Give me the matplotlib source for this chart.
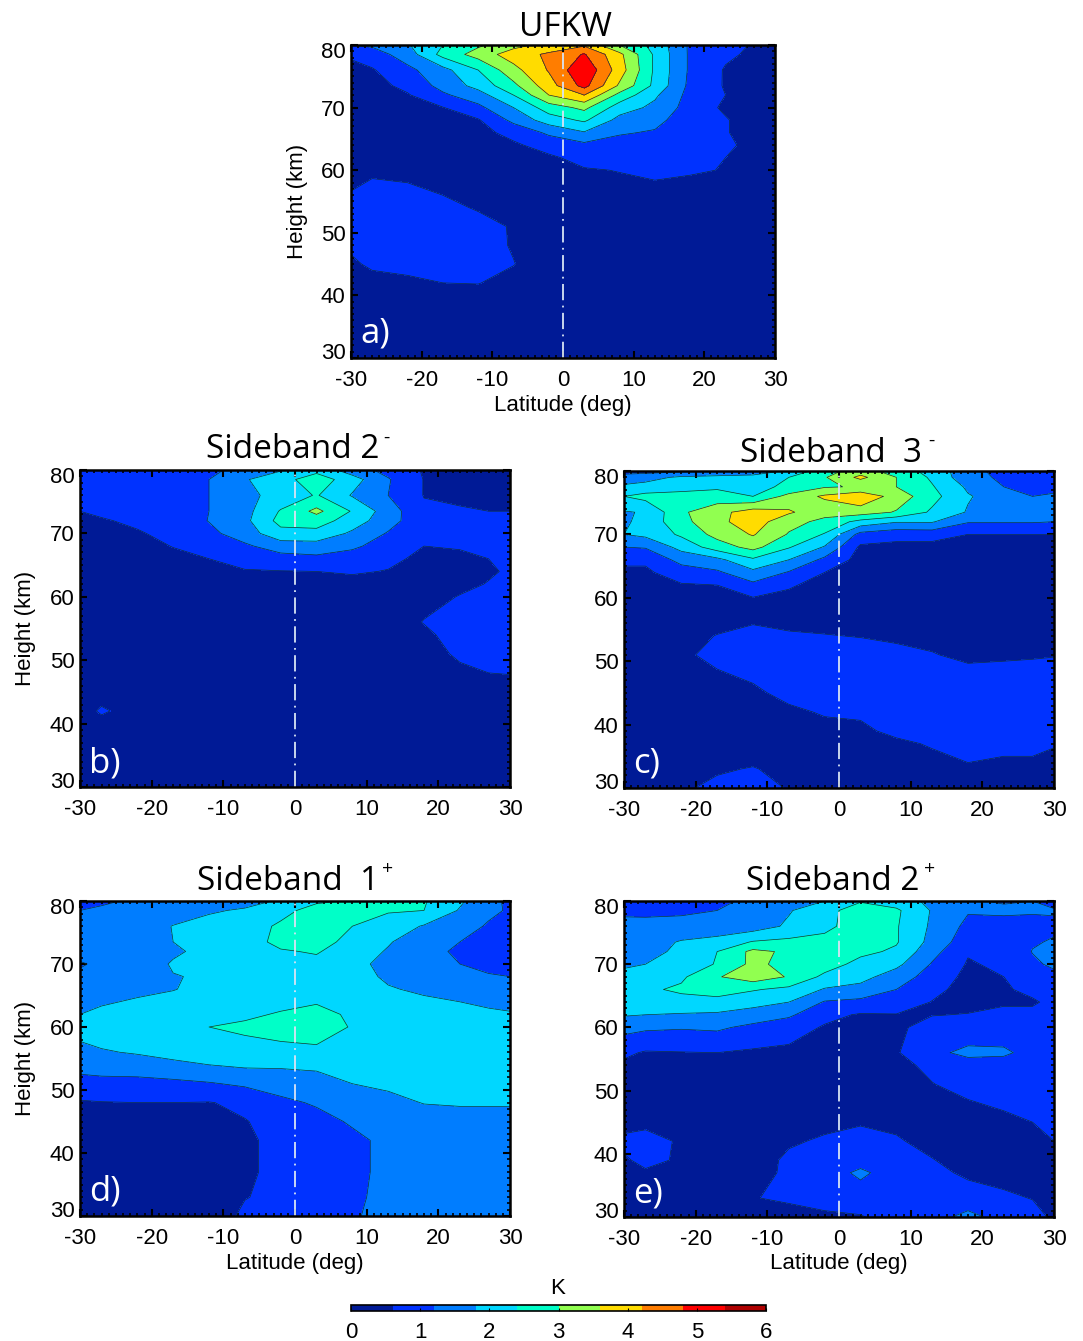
import numpy as np
import matplotlib
matplotlib.use('Agg')
import matplotlib.pyplot as plt
from matplotlib.colors import ListedColormap, BoundaryNorm
from matplotlib.ticker import MultipleLocator
from matplotlib.transforms import ScaledTranslation

W, H = 1083, 1341
plt.rcParams['font.family'] = ['Liberation Sans', 'DejaVu Sans']
plt.rcParams['axes.unicode_minus'] = False

# grid the values were read on, heights from the top down
lats = [-30, -27, -22, -17, -12, -7, -2, 3, 8, 13, 18, 23, 27, 30]
heights = [80, 78.5, 76, 73.5, 72, 70, 68, 66, 64, 62, 60, 56, 54, 51, 48, 45, 42, 39, 37, 33, 30]
heights_c = [80, 79, 77.5, 76, 73.5, 72, 70, 68, 66, 64, 62, 60, 56, 54, 51, 48, 45, 42, 39, 37, 33, 30]
levels = [0, 0.6, 1.2, 1.8, 2.4, 3.0, 3.6, 4.2, 4.8, 5.4, 6.0]
colors = ['#001a96', '#0032ff', '#007dff', '#00d7ff', '#00ffc8',
          '#91ff50', '#ffdc00', '#ff7d00', '#ff0000', '#af0000']

# one list per latitude
ufkw = [
    [1.2, .7, .4, .35, .3, .3, .3, .3, .3, .3, .35, .65, .8, .9, .7, .5, .35, .3, .3, .25, .25],
    [1.3, .9, .55, .4, .35, .3, .3, .3, .3, .3, .5, .8, .9, .95, .9, .7, .4, .3, .3, .25, .25],
    [1.75, 1.5, 1.05, .75, .55, .45, .4, .3, .3, .3, .45, .75, .8, .85, .85, .75, .5, .3, .2, .2, .2],
    [2.4, 2.6, 1.6, 1.4, 1.1, .58, .45, .3, .3, .3, .35, .6, .75, .85, .85, .75, .6, .3, .25, .2, .2],
    [2.9, 3.25, 2.4, 2.0, 1.55, 1.05, .55, .4, .35, .3, .3, .4, .55, .8, .85, .8, .62, .3, .25, .2, .2],
    [3.4, 3.9, 3.4, 2.85, 2.4, 1.8, 1.35, .8, .5, .35, .3, .3, .35, .55, .55, .62, .4, .25, .2, .2, .2],
    [3.8, 4.3, 4.25, 3.95, 3.6, 2.7, 2.1, 1.3, .85, .5, .35, .3, .25, .25, .25, .25, .25, .2, .2, .2, .2],
    [4.1, 4.85, 5.3, 5.0, 4.2, 3.15, 2.5, 1.75, 1.05, .8, .55, .35, .25, .25, .25, .25, .25, .2, .2, .2, .2],
    [3.0, 3.75, 3.9, 3.5, 2.8, 2.1, 1.6, 1.25, 1.0, .85, .62, .4, .3, .25, .25, .25, .2, .2, .2, .2, .2],
    [2.2, 2.3, 2.3, 2.25, 1.9, 1.65, 1.35, 1.15, 1.0, .85, .7, .45, .3, .25, .25, .2, .2, .2, .2, .2, .2],
    [1.1, 1.1, 1.1, 1.05, 1.0, .95, .9, .9, .85, .75, .65, .4, .3, .25, .25, .2, .2, .2, .2, .2, .2],
    [.8, .7, .55, .55, .6, .5, .65, .65, .8, .6, .58, .35, .3, .25, .25, .2, .2, .2, .2, .2, .2],
    [.55, .5, .4, .35, .35, .3, .3, .3, .3, .3, .3, .3, .25, .25, .25, .2, .2, .2, .2, .2, .2],
    [.3, .3, .3, .3, .3, .3, .3, .3, .3, .3, .3, .3, .25, .25, .25, .2, .2, .2, .2, .2, .2],
]

sb2_minus = [
    [.9, .9, .8, .6, .5, .4, .35, .3, .3, .3, .3, .3, .3, .3, .3, .3, .35, .3, .25, .25, .25],
    [.95, .95, .85, .7, .55, .4, .35, .3, .3, .3, .3, .3, .3, .3, .3, .35, .68, .3, .25, .25, .25],
    [1.0, 1.0, .9, .85, .7, .55, .4, .35, .3, .3, .3, .3, .3, .3, .3, .3, .35, .3, .25, .25, .25],
    [1.05, 1.0, .95, .9, .85, .75, .62, .45, .35, .3, .3, .3, .3, .3, .3, .3, .3, .25, .25, .25, .25],
    [1.1, 1.2, 1.2, 1.2, 1.22, 1.05, .9, .6, .45, .35, .3, .3, .3, .3, .3, .3, .3, .25, .25, .25, .25],
    [1.35, 1.75, 1.65, 1.6, 1.65, 1.5, 1.1, .85, .55, .4, .3, .3, .3, .3, .3, .3, .25, .25, .25, .25, .25],
    [1.75, 2.15, 2.0, 2.45, 2.6, 2.2, 1.5, .95, .58, .4, .3, .3, .3, .3, .3, .3, .25, .25, .25, .25, .25],
    [2.2, 2.75, 2.45, 3.15, 2.7, 2.2, 1.55, 1.05, .6, .45, .35, .3, .3, .3, .3, .3, .25, .25, .25, .25, .25],
    [1.5, 2.05, 1.75, 2.35, 2.1, 1.7, 1.3, .95, .65, .45, .35, .3, .3, .3, .3, .3, .25, .25, .25, .25, .25],
    [1.0, 1.25, 1.2, 1.5, 1.45, 1.15, .95, .7, .58, .45, .4, .35, .3, .3, .3, .3, .25, .25, .25, .25, .25],
    [.55, .58, .58, .7, .75, .65, .6, .5, .45, .4, .45, .62, .5, .4, .35, .3, .25, .25, .25, .25, .25],
    [.4, .4, .5, .65, .7, .7, .62, .55, .5, .5, .62, .8, .8, .68, .5, .3, .25, .25, .25, .25, .25],
    [.4, .4, .4, .6, .7, .7, .65, .6, .55, .62, .75, .85, .85, .8, .6, .4, .3, .25, .25, .25, .25],
    [.4, .4, .45, .6, .7, .7, .7, .65, .65, .7, .8, .85, .8, .72, .62, .4, .3, .25, .25, .25, .25],
]

sb3_minus = [
    [.9, 1.5, 1.9, 2.4, 1.75, 1.7, 1.8, 1.2, .7, .5, .4, .35, .3, .3, .3, .3, .3, .3, .3, .3, .3, .3],
    [.95, 1.6, 2.0, 2.6, 1.85, 2.0, 1.95, 1.25, .7, .5, .4, .35, .3, .3, .3, .3, .3, .3, .3, .3, .3, .3],
    [1.1, 1.9, 2.2, 2.6, 2.9, 2.8, 2.5, 2.0, 1.4, .9, .55, .4, .3, .4, .5, .45, .35, .3, .25, .25, .45, .55],
    [1.2, 2.0, 2.3, 2.65, 3.4, 3.45, 3.2, 2.7, 1.65, 1.1, .6, .45, .45, .62, .75, .55, .4, .3, .25, .3, .56, .68],
    [1.3, 2.1, 2.25, 2.4, 3.9, 3.9, 3.65, 3.2, 2.3, 1.65, 1.05, .58, .58, .75, .85, .7, .5, .4, .35, .4, .62, .72],
    [1.9, 2.4, 2.5, 3.2, 3.68, 3.2, 2.95, 2.45, 1.8, 1.15, .65, .5, .52, .65, .85, .85, .75, .5, .4, .4, .5, .58],
    [2.75, 2.95, 2.95, 3.7, 3.2, 2.85, 2.35, 1.75, 1.05, .6, .45, .4, .48, .62, .85, .9, .85, .65, .45, .35, .35, .3],
    [3.3, 3.75, 3.05, 4.05, 3.3, 2.2, 1.0, .5, .4, .35, .35, .35, .42, .58, .8, .9, .9, .68, .5, .4, .3, .3],
    [2.7, 3.0, 3.0, 3.35, 2.95, 1.85, .8, .45, .4, .35, .35, .35, .42, .5, .75, .95, .95, .85, .72, .5, .35, .3],
    [2.2, 2.3, 2.45, 2.6, 2.3, 1.85, .85, .4, .35, .35, .35, .35, .42, .5, .62, .85, .95, .95, .75, .65, .4, .3],
    [1.4, 1.4, 1.7, 1.85, 1.75, 1.25, .6, .4, .35, .35, .35, .3, .35, .45, .52, .7, .9, 1.0, .9, .75, .55, .35],
    [1.0, 1.1, 1.2, 1.5, 1.55, 1.25, .6, .4, .35, .35, .35, .3, .35, .45, .55, .7, .9, 1.0, .9, .7, .5, .4],
    [.8, 1.0, 1.1, 1.2, 1.5, 1.25, .6, .4, .35, .35, .35, .3, .35, .4, .57, .7, .9, 1.1, .9, .65, .55, .5],
    [.55, 1.0, 1.1, 1.25, 1.6, 1.2, .6, .4, .35, .35, .35, .3, .35, .45, .58, .75, .95, 1.1, .85, .62, .5, .55],
]

sb1_plus = [
    [1.0, 1.2, 1.35, 1.4, 1.4, 1.15, 1.3, 1.5, 1.65, 1.8, 2.0, 1.65, 1.45, .95, .55, .5, .45, .4, .35, .3, .3],
    [1.15, 1.25, 1.4, 1.45, 1.45, 1.3, 1.4, 1.6, 1.75, 1.9, 2.1, 1.75, 1.5, 1.0, .58, .5, .45, .4, .35, .3, .3],
    [1.25, 1.35, 1.5, 1.55, 1.55, 1.5, 1.55, 1.7, 1.85, 2.0, 2.15, 1.85, 1.55, 1.0, .6, .5, .45, .4, .35, .3, .3],
    [1.4, 1.5, 1.82, 1.8, 1.72, 1.85, 1.78, 1.78, 1.95, 2.1, 2.25, 1.95, 1.7, 1.05, .6, .5, .45, .4, .35, .3, .3],
    [1.5, 1.75, 1.95, 1.95, 1.95, 1.95, 1.85, 1.95, 2.05, 2.15, 2.4, 2.05, 1.8, 1.15, .58, .5, .45, .4, .35, .3, .3],
    [1.65, 1.85, 2.1, 2.15, 2.1, 2.05, 2.0, 2.05, 2.2, 2.3, 2.5, 2.2, 1.9, 1.3, .7, .58, .55, .55, .55, .58, .7],
    [1.85, 2.2, 2.5, 2.55, 2.35, 2.2, 2.1, 2.15, 2.25, 2.45, 2.6, 2.25, 1.9, 1.4, 1.1, .75, .68, .68, .68, .72, .78],
    [2.3, 2.65, 2.75, 2.65, 2.45, 2.25, 2.15, 2.2, 2.35, 2.6, 2.75, 2.25, 1.95, 1.5, 1.25, 1.05, .95, .95, 1.0, 1.05, 1.0],
    [2.45, 2.55, 2.4, 2.2, 2.1, 2.05, 2.05, 2.1, 2.2, 2.3, 2.35, 2.1, 1.95, 1.8, 1.45, 1.25, 1.1, 1.1, 1.1, 1.12, 1.15],
    [2.45, 2.45, 2.15, 1.85, 1.75, 1.55, 1.7, 1.85, 2.0, 2.1, 2.2, 2.05, 2.0, 1.9, 1.65, 1.4, 1.3, 1.3, 1.3, 1.32, 1.35],
    [2.45, 2.4, 1.75, 1.45, 1.4, 1.35, 1.5, 1.7, 1.9, 2.05, 2.2, 2.05, 2.0, 1.95, 1.82, 1.55, 1.45, 1.4, 1.4, 1.4, 1.4],
    [1.9, 1.75, 1.4, 1.2, 1.1, 1.2, 1.4, 1.6, 1.8, 2.0, 2.15, 2.05, 2.0, 1.95, 1.85, 1.6, 1.45, 1.45, 1.45, 1.45, 1.45],
    [1.35, 1.3, 1.15, 1.05, 1.0, 1.05, 1.25, 1.5, 1.7, 1.9, 2.05, 2.0, 1.95, 1.95, 1.85, 1.6, 1.5, 1.45, 1.45, 1.45, 1.45],
    [1.1, 1.15, 1.1, 1.05, 1.0, 1.05, 1.2, 1.45, 1.65, 1.85, 2.0, 2.0, 1.95, 1.95, 1.85, 1.6, 1.5, 1.45, 1.45, 1.45, 1.45],
]

sb2_plus = [
    [.9, 1.1, 1.35, 1.5, 1.6, 1.75, 1.9, 2.0, 1.95, 1.85, 1.4, .7, .5, .35, .3, .45, .7, .55, .4, .3, .3],
    [.95, 1.05, 1.4, 1.55, 1.65, 1.8, 2.0, 2.3, 2.1, 1.8, 1.3, .55, .4, .3, .3, .5, .75, .7, .55, .35, .3],
    [1.0, 1.1, 1.4, 1.85, 1.9, 2.0, 2.3, 2.5, 2.2, 1.75, 1.25, .58, .4, .3, .3, .4, .55, .55, .4, .3, .25],
    [1.15, 1.2, 1.45, 2.0, 2.4, 2.45, 2.95, 2.6, 2.25, 1.7, 1.3, .6, .4, .3, .3, .3, .3, .3, .3, .3, .3],
    [1.25, 1.3, 1.5, 2.45, 3.15, 3.15, 3.35, 2.45, 2.0, 1.55, 1.05, .52, .4, .3, .3, .3, .3, .3, .3, .58, .4],
    [1.5, 1.75, 1.9, 2.55, 2.9, 2.8, 2.95, 2.25, 1.8, 1.3, .85, .48, .4, .3, .3, .35, .52, .72, .75, .68, .4],
    [1.8, 2.2, 2.2, 2.65, 2.75, 2.7, 2.25, 1.75, 1.15, .75, .55, .38, .3, .3, .3, .45, .68, .85, .95, .8, .5],
    [2.35, 2.7, 2.8, 2.8, 2.55, 2.2, 2.0, 1.6, 1.05, .55, .45, .38, .3, .3, .4, .55, .8, 1.0, 1.3, .95, .55],
    [2.1, 2.5, 2.45, 2.45, 2.3, 1.95, 1.5, 1.2, .9, .58, .5, .55, .42, .4, .45, .5, .65, .85, .95, .9, .9],
    [1.65, 1.75, 1.7, 1.6, 1.4, 1.15, .95, .75, .58, .58, .8, 1.05, .75, .58, .45, .4, .45, .62, .72, .85, .95],
    [1.25, 1.25, 1.05, .85, .65, .55, .45, .4, .45, .62, .8, 1.35, .95, .8, .55, .4, .35, .4, .52, .8, 1.4],
    [1.15, 1.3, 1.0, .8, .75, .7, .6, .55, .55, .7, .85, 1.3, .95, .8, .7, .45, .35, .35, .4, .7, .95],
    [1.2, 1.25, 1.05, 1.15, 1.22, 1.1, .9, .7, .55, .7, .8, 1.0, .85, .75, .7, .6, .4, .35, .35, .58, .8],
    [1.0, 1.25, 1.1, 1.25, 1.4, 1.3, 1.05, .85, .7, .7, .75, .8, .8, .75, .7, .65, .6, .35, .35, .4, .5],
]

cmap = ListedColormap(colors)
norm = BoundaryNorm(levels, cmap.N)
fig = plt.figure(figsize=(W / 100, H / 100), dpi=100)


# axes from pixel box of the reference
def add_box(x0, y0, x1, y1):
    return fig.add_axes([x0 / W, 1 - y1 / H, (x1 - x0) / W, (y1 - y0) / H])


def draw_panel(box, values, letter, rows=heights, xlab=False, ylab=False):
    ax = add_box(*box)
    z = np.array(values).T
    cs = ax.contourf(lats, rows, z, levels=levels, cmap=cmap, norm=norm)
    ax.contour(lats, rows, z, levels=levels[1:-1], colors='#10303a', linewidths=0.5)
    ax.plot([0, 0], [30, 80], color='#d8e4f4', lw=1.3, dashes=(9, 3, 1, 3))
    ax.set_xlim(-30, 30)
    ax.set_ylim(30, 80)
    ax.set_xticks(range(-30, 31, 10))
    ax.set_yticks(range(30, 81, 10))
    ax.xaxis.set_minor_locator(MultipleLocator(1))
    ax.yaxis.set_minor_locator(MultipleLocator(1))
    ax.tick_params(which='major', direction='in', top=True, right=True, length=5, width=1.5,
                   labelsize=16)
    ax.tick_params(axis='x', which='major', pad=8.5)
    ax.tick_params(axis='y', which='major', pad=4)
    ax.tick_params(which='minor', direction='in', top=True, right=True, length=2.5, width=1.2)
    # end labels sit inside the axis range, as in the original
    labels = ax.get_yticklabels()
    labels[0].set_transform(labels[0].get_transform() + ScaledTranslation(0, 0.07, fig.dpi_scale_trans))
    labels[-1].set_transform(labels[-1].get_transform() + ScaledTranslation(0, -0.05, fig.dpi_scale_trans))
    for s in ax.spines.values():
        s.set_linewidth(1.8)
    w = box[2] - box[0]
    h = box[3] - box[1]
    if xlab:
        ax.set_xlabel('Latitude (deg)', fontsize=16)
        ax.xaxis.set_label_coords(0.5, -47 / h, transform=ax.transAxes)
        ax.xaxis.label.set_verticalalignment('center')
    if ylab:
        ax.set_ylabel('Height (km)', fontsize=16)
        ax.yaxis.set_label_coords(-54 / w, 0.5, transform=ax.transAxes)
        ax.yaxis.label.set_verticalalignment('center')
    ax.text(9 / w, 24 / h, letter, transform=ax.transAxes, color='white', fontsize=25,
            family='Open Sans', ha='left', va='center')
    return cs


cs = draw_panel((351, 45, 775, 358), ufkw, 'a)', xlab=True, ylab=True)
draw_panel((80, 470, 510, 787), sb2_minus, 'b)', ylab=True)
draw_panel((624, 471, 1054, 788), sb3_minus, 'c)', rows=heights_c)
draw_panel((80, 901, 510, 1216), sb1_plus, 'd)', xlab=True, ylab=True)
draw_panel((624, 901, 1054, 1217), sb2_plus, 'e)', xlab=True)

titles = ['UFKW', 'Sideband 2', 'Sideband  3', 'Sideband  1', 'Sideband 2']
title_pos = [(566, 27), (293, 450), (831, 453), (288, 882), (833, 882)]
for t, (x, y) in zip(titles, title_pos):
    fig.text(x / W, 1 - y / H, t, family='Open Sans', fontsize=24, ha='center', va='center')
signs = ['-', '-', '+', '+']
sign_pos = [(386, 438), (931, 441), (388, 869), (930, 869)]
for t, (x, y) in zip(signs, sign_pos):
    fig.text(x / W, 1 - y / H, t, family='Open Sans', fontsize=14, ha='center', va='center')

cax = add_box(351, 1305, 766, 1311)
cb = fig.colorbar(cs, cax=cax, orientation='horizontal', ticks=[0, 1, 2, 3, 4, 5, 6], spacing='proportional')
cb.ax.tick_params(direction='in', length=2, width=0.8, labelsize=16, pad=8)
cb.outline.set_linewidth(1.2)
cb.ax.minorticks_off()
fig.text(558 / W, 1 - 1289 / H, 'K', fontsize=16, ha='center', va='center')

fig.savefig('out.png', dpi=100)
